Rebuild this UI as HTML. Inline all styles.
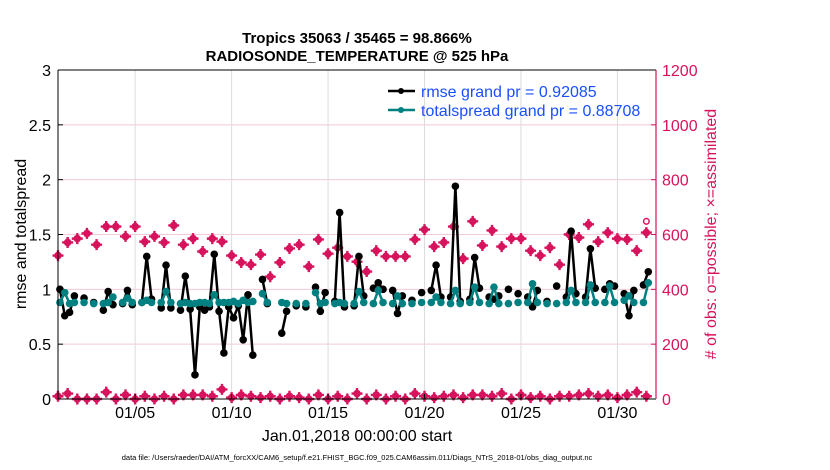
<!DOCTYPE html>
<html><head><meta charset="utf-8"><style>
body{margin:0;background:#fff;}
svg{display:block;font-family:"Liberation Sans",Arial,sans-serif;}
</style></head><body>
<svg id="chart" width="830" height="470" viewBox="0 0 830 470" xmlns="http://www.w3.org/2000/svg">
<rect x="0" y="0" width="830" height="470" fill="#fff"/>
<g id="grid"></g>
<g id="series"></g>
<g id="axes"></g>
<text x="357" y="43" text-anchor="middle" font-size="15" font-weight="bold">Tropics 35063 / 35465 = 98.866%</text>
<text x="357" y="61" text-anchor="middle" font-size="15" font-weight="bold">RADIOSONDE_TEMPERATURE @ 525 hPa</text>
<text transform="translate(26,234) rotate(-90)" text-anchor="middle" font-size="16">rmse and totalspread</text>
<text transform="translate(716,234) rotate(-90)" text-anchor="middle" font-size="16" fill="#d6135c"># of obs: o=possible; ×=assimilated</text>
<text x="357" y="441" text-anchor="middle" font-size="16">Jan.01,2018 00:00:00 start</text>
<text x="357" y="460" text-anchor="middle" font-size="7.5">data file: /Users/raeder/DAI/ATM_forcXX/CAM6_setup/f.e21.FHIST_BGC.f09_025.CAM6assim.011/Diags_NTrS_2018-01/obs_diag_output.nc</text>
<g>
<line x1="388" y1="91" x2="415" y2="91" stroke="#000" stroke-width="2.5"/>
<circle cx="401" cy="91" r="3" fill="#000"/>
<text x="421" y="97" font-size="16" fill="#1a4fff">rmse grand pr = 0.92085</text>
<line x1="388" y1="110" x2="415" y2="110" stroke="#008080" stroke-width="2.5"/>
<circle cx="401" cy="110" r="3" fill="#008080"/>
<text x="421" y="116" font-size="16" fill="#1a4fff">totalspread grand pr = 0.88708</text>
</g>
</svg>
<script>
const N = null;
const rmse = [1.0,0.76,0.79,0.94,N,0.92,N,0.88,N,0.81,0.98,0.86,N,0.87,0.99,0.86,N,0.88,1.30,0.91,N,0.83,1.22,0.83,N,0.81,1.12,0.82,0.22,0.84,0.81,0.84,1.32,0.80,0.42,0.84,0.74,0.85,0.54,0.95,0.40,N,1.09,0.87,N,N,0.60,0.80,N,0.85,N,0.84,N,1.02,0.80,0.97,N,0.89,1.70,0.84,N,0.85,1.30,0.94,N,1.01,1.06,1.00,N,0.99,0.78,0.94,N,0.90,N,0.97,N,0.99,1.22,0.93,N,0.93,1.94,0.89,N,0.91,1.29,1.01,N,0.93,0.91,0.94,N,1.00,N,0.96,N,0.93,0.84,0.99,N,0.89,N,1.03,N,0.93,1.53,0.96,N,0.93,1.37,1.01,N,1.00,1.05,1.03,N,0.96,0.76,0.99,N,1.04,1.16,N];
const spread = [0.88,0.97,0.87,0.88,N,0.88,N,0.87,N,0.87,0.88,0.93,N,0.88,0.92,0.88,N,0.88,0.90,0.88,N,0.88,0.98,0.88,N,0.87,0.88,0.87,0.87,0.88,0.88,0.87,0.95,0.88,0.88,0.88,0.89,0.87,0.90,0.88,0.89,N,0.96,0.88,N,N,0.88,0.87,N,0.87,N,0.87,N,0.97,0.87,0.88,N,0.87,0.88,0.87,N,0.87,0.98,0.88,N,0.87,0.99,0.88,N,0.87,0.94,0.87,N,0.87,N,0.88,N,0.88,0.93,0.88,N,0.87,0.99,0.87,N,0.88,1.02,0.88,N,0.87,1.02,0.87,N,0.87,N,0.88,N,0.88,1.05,0.88,N,0.87,N,0.87,N,0.88,0.99,0.88,N,0.88,1.04,0.88,N,0.88,1.03,0.88,N,0.90,0.94,0.88,N,0.88,1.06,N];
const obsPossible = [523,571,585,604,563,629,629,593,629,574,593,571,633,563,585,538,585,574,523,498,490,527,446,498,549,563,483,582,530,552,520,501,465,541,520,520,520,582,618,556,571,629,512,648,560,615,556,585,585,541,523,552,490,600,589,637,574,607,585,582,541,648];
const obsAssim = [523,571,585,604,563,629,629,593,629,574,593,571,633,563,585,538,585,574,523,498,490,527,446,498,549,563,483,582,530,552,520,501,465,541,520,520,520,582,618,556,571,629,512,648,560,615,556,585,585,541,523,552,490,600,589,637,574,607,585,582,541,607];
const obsLowCount = [10,20,0,0,0,25,0,15,0,10,0,10,0,15,15,15,10,35,5,15,10,5,10,0,10,5,0,15,0,10,0,20,0,15,0,10,0,20,10,5,10,15,5,15,15,10,20,0,15,5,10,0,10,10,15,20,10,15,5,15,25,10];
const leftTicks = [0,0.5,1,1.5,2,2.5,3];
const leftTickLabels = ["0","0.5","1","1.5","2","2.5","3"];
const rightTicks = [0,200,400,600,800,1000,1200];
const dateTicks = [4,9,14,19,24,29];
const dateTickLabels = ["01/05","01/10","01/15","01/20","01/25","01/30"];

const L=58,R=656,T=70,B=399, TMAX=31;
const xs = t => L + (R-L)*t/TMAX;
const yl = v => B - (B-T)*v/3;
const yr = v => B - (B-T)*v/1200;
const NS="http://www.w3.org/2000/svg";
function mk(tag, parent, attrs){const e=document.createElementNS(NS,tag);for(const k in attrs)e.setAttribute(k,attrs[k]);parent.appendChild(e);return e;}
const grid=document.getElementById('grid'), ser=document.getElementById('series'), ax=document.getElementById('axes');

leftTicks.forEach((v,i)=>{
  if(v>0&&v<3){const g=mk('line',grid,{x1:L,x2:R,y1:yl(v),y2:yl(v),stroke:'#f2c9d8','stroke-width':1});
  
  }
  const tk=mk('line',ax,{x1:L,x2:L+5,y1:yl(v),y2:yl(v),stroke:'#000'});
  
  
  const tx=mk('text',ax,{x:L-7,y:yl(v)+6,'text-anchor':'end','font-size':16});
  tx.textContent=leftTickLabels[i];
  
  
});
dateTicks.forEach((t,i)=>{
  const g=mk('line',grid,{x1:xs(t),x2:xs(t),y1:T,y2:B,stroke:'#dcdcdc','stroke-width':1});
  
  
  const tk=mk('line',ax,{x1:xs(t),x2:xs(t),y1:B,y2:B-5,stroke:'#000'});
  
  
  const tx=mk('text',ax,{x:xs(t),y:B+19,'text-anchor':'middle','font-size':16});
  tx.textContent=dateTickLabels[i];
  
  
});
rightTicks.forEach(v=>{
  const tk=mk('line',ax,{x1:R-5,x2:R,y1:yr(v),y2:yr(v),stroke:'#d6135c'});
  
  
  const tx=mk('text',ax,{x:R+6,y:yr(v)+6,'font-size':16,fill:'#d6135c'});
  tx.textContent=String(v);
  
  
});
const f1=mk('path',ax,{d:`M${L},${T}H${R}M${L},${T}V${B}H${R}`,stroke:'#000',fill:'none','stroke-width':1});


const f2=mk('line',ax,{x1:R,x2:R,y1:T,y2:B,stroke:'#d6135c','stroke-width':1.2});



function obsMarker(x,y,name){
  const g=mk('g',ser,{});
  
  
  mk('circle',g,{cx:x,cy:y,r:3.8,fill:'#d6135c'});
  mk('path',g,{d:`M${x-5.5},${y}H${x+5.5}M${x},${y-5.5}V${y+5.5}`,stroke:'#d6135c','stroke-width':2.4});
}
obsAssim.forEach((v,i)=>obsMarker(xs(i*0.5),yr(v),'obs-assimilated-point'));
obsPossible.forEach((v,i)=>{ if(v!==obsAssim[i]){const c=mk('circle',ser,{cx:xs(i*0.5),cy:yr(v),r:2.8,fill:'none',stroke:'#d6135c','stroke-width':1.5});
  
  }});
obsLowCount.forEach((v,i)=>obsMarker(xs(i*0.5),yr(v),'obs-low-point'));

function drawSeries(vals,color,name){
  let d='';let prev=false;
  vals.forEach((v,i)=>{ if(v===null){prev=false;return;} const x=xs(i*0.25+0.1),y=yl(v); d+=(prev?'L':'M')+x.toFixed(1)+','+y.toFixed(1); prev=true;});
  const p=mk('path',ser,{d:d,stroke:color,'stroke-width':2.5,fill:'none','stroke-linejoin':'round'});
  
  
  vals.forEach((v,i)=>{ if(v===null)return;
    const c=mk('circle',ser,{cx:xs(i*0.25+0.1),cy:yl(v),r:3.8,fill:color});
    
    });
}
drawSeries(rmse,'#000','rmse');
drawSeries(spread,'#008080','totalspread');
</script>
</body></html>
